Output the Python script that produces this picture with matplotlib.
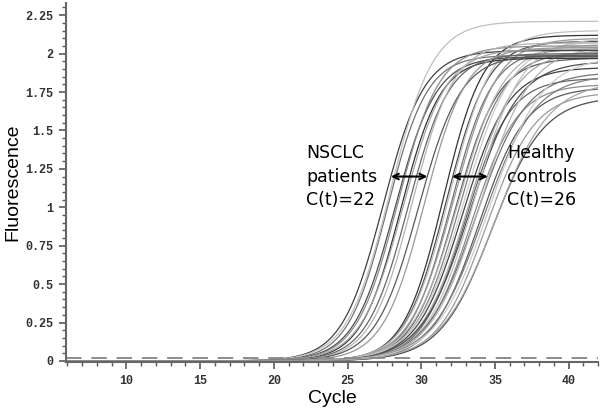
import numpy as np
import matplotlib
matplotlib.use("Agg")
import matplotlib.pyplot as plt
from matplotlib.ticker import MultipleLocator, FormatStrFormatter

# amplification curves:
# cycle at half plateau, plateau fluorescence, rise width (cycles), grey level
nsclc_mid = [27.4, 27.7, 27.9, 28.2, 28.4, 28.6, 28.8, 29.1, 29.4, 29.8, 30.2]
nsclc_top = [2.02, 1.99, 2.21, 1.98, 2.05, 1.97, 2.03, 2.00, 2.07, 1.99, 2.04]
nsclc_width = [1.40, 1.35, 1.45, 1.40, 1.40, 1.35, 1.45, 1.40, 1.40, 1.45, 1.40]
nsclc_grey = ["0.25", "0.45", "0.75", "0.3", "0.55", "0.2", "0.65", "0.4", "0.7", "0.35", "0.6"]

healthy_mid = [31.5, 31.7, 31.9, 32.0, 32.2, 32.3, 32.5, 32.6, 32.8, 32.9, 33.0, 33.2,
               33.3, 33.4, 33.6, 33.7, 33.9, 34.0, 34.2, 34.4, 34.6, 34.8, 35.0]
healthy_top = [2.12, 2.08, 2.15, 2.03, 2.10, 1.97, 2.06, 2.01, 1.91, 2.08, 1.84, 2.02,
               1.95, 1.80, 2.10, 1.88, 1.78, 2.05, 1.86, 1.75, 1.98, 1.72, 1.82]
healthy_width = [1.35, 1.40, 1.45, 1.40, 1.50, 1.45, 1.55, 1.50, 1.55, 1.60, 1.50, 1.60,
                 1.65, 1.55, 1.60, 1.70, 1.60, 1.70, 1.75, 1.65, 1.80, 1.75, 1.85]
healthy_grey = ["0.2", "0.3", "0.75", "0.45", "0.6", "0.35", "0.7", "0.5", "0.25", "0.8",
                "0.4", "0.65", "0.3", "0.55", "0.75", "0.45", "0.35", "0.7", "0.5", "0.6",
                "0.8", "0.3", "0.65"]

threshold = 0.02
arrow_y = 1.2
nsclc_arrow = [27.75, 30.6]
healthy_arrow = [31.9, 34.7]

cycles = np.arange(1, 42.01, 0.2)


def curve(mid, top, width):
    return top / (1 + np.exp(-(cycles - mid) / width))


fig = plt.figure(figsize=(6, 4.12), dpi=100)
ax = fig.add_axes([0.11, 0.121, 0.887, 0.872])

for m, t, w, g in zip(healthy_mid, healthy_top, healthy_width, healthy_grey):
    ax.plot(cycles, curve(m, t, w), color=g, lw=0.9)
for m, t, w, g in zip(nsclc_mid, nsclc_top, nsclc_width, nsclc_grey):
    ax.plot(cycles, curve(m, t, w), color=g, lw=0.9)

ax.axhline(threshold, color="0.55", lw=1.4, dashes=(8, 5))

ax.annotate("", xy=(nsclc_arrow[0], arrow_y), xytext=(nsclc_arrow[1], arrow_y),
            arrowprops=dict(arrowstyle="<->", color="black", lw=1.5))
ax.annotate("", xy=(healthy_arrow[0], arrow_y), xytext=(healthy_arrow[1], arrow_y),
            arrowprops=dict(arrowstyle="<->", color="black", lw=1.5))
ax.text(22.2, 1.2, "NSCLC\npatients\nC(t)=22", fontsize=12.5, va="center",
        ha="left", family="DejaVu Sans", linespacing=1.38)
ax.text(35.8, 1.2, "Healthy\ncontrols\nC(t)=26", fontsize=12.5, va="center",
        ha="left", family="DejaVu Sans", linespacing=1.38)

ax.set_xlim(5.9, 42)
ax.set_ylim(-0.008, 2.33)

ax.xaxis.set_major_locator(MultipleLocator(5))
ax.xaxis.set_minor_locator(MultipleLocator(1))
ax.yaxis.set_major_locator(MultipleLocator(0.25))
ax.yaxis.set_minor_locator(MultipleLocator(0.05))
ax.yaxis.set_major_formatter(FormatStrFormatter("%g"))

for s in ["top", "right"]:
    ax.spines[s].set_visible(False)
for s in ["left", "bottom"]:
    ax.spines[s].set_color("0.4")
    ax.spines[s].set_linewidth(1.5)

ax.tick_params(which="major", length=5, width=1.2, color="0.35", labelcolor="0.2",
               labelsize=8.5, pad=4)
ax.tick_params(which="minor", length=3, width=1.0, color="0.35")
for lab in ax.get_xticklabels() + ax.get_yticklabels():
    lab.set_family("Liberation Mono")
    lab.set_fontweight("bold")

ax.set_xlabel("Cycle", fontsize=14, family="Liberation Sans")
ax.set_ylabel("Fluorescence", fontsize=14, family="Liberation Sans")
ax.xaxis.set_label_coords(0.5, -0.078)
ax.yaxis.set_label_coords(-0.083, 0.5)

fig.savefig("out.png", dpi=100)
